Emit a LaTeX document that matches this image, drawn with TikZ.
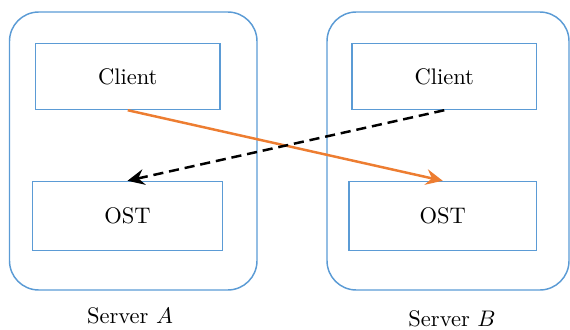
\documentclass[tikz,border=0pt]{standalone}
\usetikzlibrary{arrows.meta}
\definecolor{boxblue}{RGB}{91,155,213}
\definecolor{linkorange}{RGB}{237,125,49}
\def\pxu{0.444pt}
\tikzset{
  server/.style 2 args={draw=boxblue, line width=0.65pt, rounded corners=13pt,
    minimum width=#1*\pxu, minimum height=#2*\pxu, inner sep=0pt},
  unit/.style 2 args={draw=boxblue, line width=0.65pt,
    minimum width=#1*\pxu, minimum height=#2*\pxu, inner sep=0pt},
  lbl/.style={inner sep=0pt},
  write/.style={draw=linkorange, line width=1.1pt,
    -{Stealth[length=7.5pt,width=7pt,inset=2.6pt]}},
  read/.style={draw=black, line width=1.1pt, dash pattern=on 4.5pt off 2.6pt,
    -{Stealth[length=7.5pt,width=7pt,inset=2.6pt]}}
}
\begin{document}
\begin{tikzpicture}[x=0.444pt, y=-0.444pt]
  \useasboundingbox (0,0) rectangle (570,329);
  % server enclosures
  \node[server={247.5}{278}] (srvA) at (133.25,151) {};
  \node[server={242}{278}]   (srvB) at (448,151) {};
  % components inside each server
  \node[unit={184.5}{66}] (clientA) at (127.75,76.5) {Client};
  \node[unit={190}{69}]   (ostA)    at (127.5,216)   {OST};
  \node[unit={184.5}{66}] (clientB) at (444.25,76.5) {Client};
  \node[unit={187.5}{69}] (ostB)    at (442.75,216)  {OST};
  % server captions
  \node[lbl] (capA) at (130,316) {Server $A$};
  \node[lbl] (capB) at (452,319) {Server $B$};
  % cross traffic
  \draw[write] (clientA.south) -- (ostB.north);
  \draw[read]  (clientB.south) -- (ostA.north);
\end{tikzpicture}
\end{document}
